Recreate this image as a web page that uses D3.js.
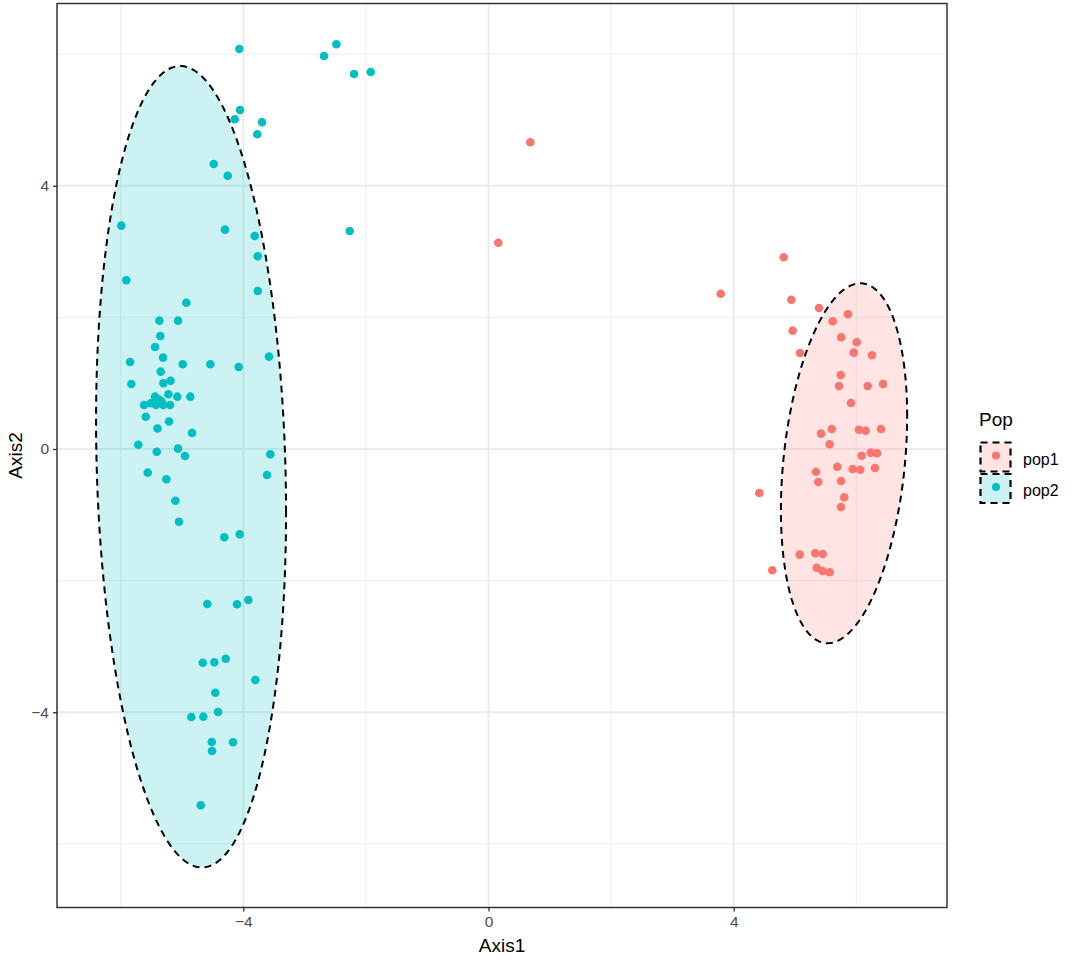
<!DOCTYPE html>
<html>
<head>
<meta charset="utf-8">
<script src="https://cdn.jsdelivr.net/npm/d3@7"></script>
<style>
  html, body { margin: 0; padding: 0; background: #fff; }
  svg { display: block; font-family: "Liberation Sans", Arial, sans-serif; }
</style>
</head>
<body>
<svg id="chart" width="1080" height="962"></svg>
<script>
// ---- data ----
const groups = ["pop1", "pop2"];
const groupColors = ["#F8766D", "#00BFC4"];

const pop1X = [0.682, 0.160, 4.816, 3.788, 4.940, 5.392, 5.865, 5.615, 4.962, 5.755, 6.007, 5.082, 5.958, 6.256, 5.746, 5.718, 6.186, 6.436, 5.914, 5.424, 5.599, 6.044, 6.153, 6.403, 5.566, 6.088, 6.235, 6.338, 5.343, 5.690, 5.941, 6.065, 6.305, 5.380, 5.750, 4.418, 5.804, 5.750, 5.077, 5.331, 5.452, 4.630, 5.354, 5.452, 5.566];
const pop1Y = [4.661, 3.135, 2.913, 2.360, 2.269, 2.143, 2.047, 1.941, 1.798, 1.698, 1.622, 1.459, 1.464, 1.424, 1.125, 0.957, 0.957, 0.988, 0.699, 0.233, 0.304, 0.293, 0.278, 0.304, 0.071, -0.102, -0.056, -0.065, -0.345, -0.269, -0.304, -0.315, -0.289, -0.502, -0.486, -0.669, -0.734, -0.881, -1.606, -1.585, -1.596, -1.843, -1.804, -1.854, -1.874];

const pop2X = [-4.065, -2.483, -2.684, -2.194, -1.922, -4.054, -4.140, -3.695, -3.772, -4.483, -4.254, -5.990, -4.299, -3.814, -2.264, -3.765, -5.909, -3.765, -4.930, -5.370, -5.065, -5.354, -5.440, -3.581, -5.310, -5.848, -4.989, -4.538, -4.075, -5.347, -5.188, -5.305, -5.827, -5.223, -5.440, -5.077, -4.865, -5.387, -5.331, -5.620, -5.511, -5.424, -5.305, -5.196, -5.592, -5.212, -5.400, -4.837, -5.713, -5.413, -5.065, -4.951, -3.560, -5.560, -5.256, -3.613, -5.109, -5.049, -4.310, -4.059, -4.587, -4.103, -3.918, -4.662, -4.473, -4.287, -3.804, -4.457, -4.848, -4.653, -4.413, -4.515, -4.511, -4.168, -4.695];
const pop2Y = [6.079, 6.150, 5.973, 5.699, 5.729, 5.152, 5.011, 4.965, 4.783, 4.331, 4.153, 3.394, 3.333, 3.237, 3.313, 2.929, 2.564, 2.401, 2.223, 1.950, 1.950, 1.717, 1.550, 1.403, 1.388, 1.322, 1.287, 1.287, 1.246, 1.175, 1.038, 0.998, 0.988, 0.831, 0.795, 0.795, 0.795, 0.755, 0.719, 0.669, 0.695, 0.669, 0.669, 0.669, 0.491, 0.418, 0.312, 0.243, 0.065, -0.041, 0.005, -0.106, -0.081, -0.360, -0.460, -0.395, -0.786, -1.105, -1.342, -1.296, -2.356, -2.360, -2.295, -3.248, -3.242, -3.187, -3.511, -3.704, -4.073, -4.068, -3.997, -4.453, -4.590, -4.457, -5.415];

// ellipse parameters (data units): centre, half extents in x / y, correlation
const ellipseCX = [5.80, -4.853];
const ellipseCY = [-0.2175, -0.27];
const ellipseHX = [1.03, 1.55];
const ellipseHY = [2.735, 6.09];
const ellipseRho = [0.26, -0.114];

const xMajor = [-4, 0, 4];
const xMinor = [-6, -2, 2, 6];
const yMajor = [-4, 0, 4];
const yMinor = [-6, -2, 2, 6];
const xDomain = [-7.04, 7.48];
const yDomain = [-6.968, 6.77];

// ---- layout ----
const svg = d3.select("#chart");
const L = 57, R = 947, T = 3.5, B = 907.5;
const x = d3.scaleLinear().domain(xDomain).range([L, R]);
const y = d3.scaleLinear().domain(yDomain).range([B, T]);

const grid = svg.append("g");
grid.selectAll(".vmin").data(xMinor).join("line")
  .attr("x1", d => x(d)).attr("x2", d => x(d)).attr("y1", T).attr("y2", B)
  .attr("stroke", "#EBEBEB").attr("stroke-width", 0.9);
grid.selectAll(".hmin").data(yMinor).join("line")
  .attr("y1", d => y(d)).attr("y2", d => y(d)).attr("x1", L).attr("x2", R)
  .attr("stroke", "#EBEBEB").attr("stroke-width", 0.9);
grid.selectAll(".vmaj").data(xMajor).join("line")
  .attr("x1", d => x(d)).attr("x2", d => x(d)).attr("y1", T).attr("y2", B)
  .attr("stroke", "#EBEBEB").attr("stroke-width", 1.9);
grid.selectAll(".hmaj").data(yMajor).join("line")
  .attr("y1", d => y(d)).attr("y2", d => y(d)).attr("x1", L).attr("x2", R)
  .attr("stroke", "#EBEBEB").attr("stroke-width", 1.9);

// ellipses
const ellLine = d3.line().x(d => x(d[0])).y(d => y(d[1]));
function ellipsePts(i) {
  const pts = [];
  const n = 200, r = ellipseRho[i];
  for (let k = 0; k <= n; k++) {
    const t = 2 * Math.PI * k / n;
    const u1 = Math.cos(t), u2 = Math.sin(t);
    pts.push([ellipseCX[i] + ellipseHX[i] * u1,
              ellipseCY[i] + ellipseHY[i] * (r * u1 + Math.sqrt(1 - r * r) * u2)]);
  }
  return pts;
}
const ellG = svg.append("g");
groups.forEach((g, i) => {
  ellG.append("path").attr("d", ellLine(ellipsePts(i)))
    .attr("fill", groupColors[i]).attr("fill-opacity", 0.2)
    .attr("stroke", "#000").attr("stroke-width", 2).attr("stroke-dasharray", "7,5");
});

// points
const series = [d3.zip(pop1X, pop1Y), d3.zip(pop2X, pop2Y)];
const ptG = svg.append("g");
series.forEach((s, i) => {
  ptG.selectAll(null).data(s).join("circle")
    .attr("cx", d => x(d[0])).attr("cy", d => y(d[1])).attr("r", 4.3)
    .attr("fill", groupColors[i]);
});

// border
svg.append("rect").attr("x", L).attr("y", T).attr("width", R - L).attr("height", B - T)
  .attr("fill", "none").attr("stroke", "#333333").attr("stroke-width", 1.5);

// axes
const fmt = d => (d < 0 ? "\u2212" + Math.abs(d) : String(d));
const xAxis = svg.append("g").attr("transform", `translate(0,${B})`)
  .call(d3.axisBottom(x).tickValues(xMajor).tickSize(4).tickPadding(4).tickFormat(fmt));
const yAxis = svg.append("g").attr("transform", `translate(${L},0)`)
  .call(d3.axisLeft(y).tickValues(yMajor).tickSize(4).tickPadding(4).tickFormat(fmt));
[xAxis, yAxis].forEach(a => {
  a.select(".domain").remove();
  a.selectAll(".tick line").attr("stroke", "#333333").attr("stroke-width", 1.3);
  a.selectAll(".tick text").attr("fill", "#4D4D4D").attr("font-size", 15.5)
    .attr("font-family", "Liberation Sans, Arial, sans-serif");
});

svg.append("text").attr("x", (L + R) / 2).attr("y", 952).attr("text-anchor", "middle")
  .attr("font-size", 19).attr("fill", "#000").text("Axis1");
svg.append("text").attr("transform", `translate(22,${(T + B) / 2}) rotate(-90)`)
  .attr("text-anchor", "middle").attr("font-size", 19).attr("fill", "#000").text("Axis2");

// legend
const lg = svg.append("g");
lg.append("text").attr("x", 979).attr("y", 426).attr("font-size", 19).attr("fill", "#000").text("Pop");
groups.forEach((g, i) => {
  const top = 442.5 + i * 31.5;
  lg.append("rect").attr("x", 980.5).attr("y", top).attr("width", 30).attr("height", 29)
    .attr("fill", groupColors[i]).attr("fill-opacity", 0.2)
    .attr("stroke", "#000").attr("stroke-width", 2.2).attr("stroke-dasharray", "7,5");
  lg.append("circle").attr("cx", 996).attr("cy", top + 13).attr("r", 4).attr("fill", groupColors[i]);
  lg.append("text").attr("x", 1023).attr("y", top + 22).attr("font-size", 16).attr("fill", "#000").text(g);
});
</script>
</body>
</html>
